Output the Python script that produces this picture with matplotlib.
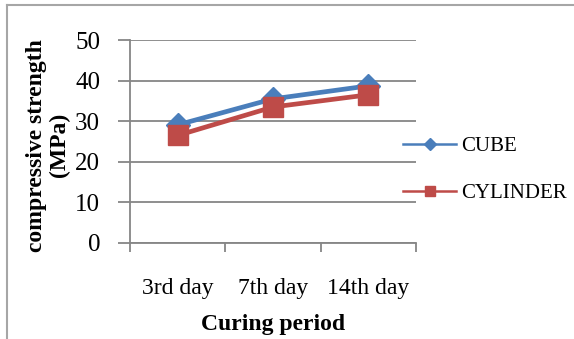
import matplotlib.pyplot as plt
from matplotlib.lines import Line2D

# compressive strength (MPa) at each curing age
periodos = ['3rd day', '7th day', '14th day']
cube = [29.1, 35.5, 38.7]
cylinder = [26.5, 33.5, 36.5]

azul = '#4A7EBB'
rojo = '#BE4B48'
gris = '#868686'

plt.rcParams['font.family'] = ['Liberation Serif', 'DejaVu Serif']

fig = plt.figure(figsize=(5.74, 3.39), dpi=100)
ax = fig.add_axes([0.2265, 0.2832, 0.4982, 0.5988])

x = range(len(periodos))
ax.plot(x, cube, '-D', color=azul, lw=3.4, markersize=12, zorder=3)
ax.plot(x, cylinder, '-s', color=rojo, lw=3.4, markersize=14, zorder=4)

ax.set_ylim(0, 50)
ax.set_yticks(range(0, 51, 10))
ax.set_xlim(-0.5, len(periodos) - 0.5)
ax.set_xticks([i - 0.5 for i in range(len(periodos) + 1)])
ax.set_xticklabels([])
ax.set_xticks(list(x), minor=True)
ax.set_xticklabels(periodos, minor=True, fontsize=17)
ax.tick_params(axis='x', which='minor', length=0, pad=25)
ax.tick_params(axis='x', which='major', length=6.5, width=1.3, color=gris)
ax.tick_params(axis='y', length=8.5, width=1.3, color=gris, labelsize=18, pad=13)

ax.grid(True, axis='y', color=gris, lw=1.3)
ax.set_axisbelow(True)
for lado in ['top', 'right']:
    ax.spines[lado].set_visible(False)
for lado in ['left', 'bottom']:
    ax.spines[lado].set_color(gris)
    ax.spines[lado].set_linewidth(1.3)

ax.set_xlabel('Curing period', fontsize=17, fontweight='bold', labelpad=11)
fig.text(0.084, 0.572, 'compressive strength\n(MPa)', rotation=90, fontsize=17,
         fontweight='bold', ha='center', va='center', linespacing=1.15)

handles = [Line2D([], [], color=azul, lw=1.8, marker='D', markersize=6.5),
           Line2D([], [], color=rojo, lw=1.8, marker='s', markersize=7.5)]
fig.legend(handles, ['CUBE', 'CYLINDER'], loc='center left',
           bbox_to_anchor=(403 / 574, 0.4986), frameon=False, fontsize=15,
           borderpad=0, borderaxespad=0,
           handlelength=2.55, handletextpad=0.25, labelspacing=1.3)

# chart border
fig.add_artist(Line2D([7 / 574, 7 / 574], [0, 1 - 5 / 339], color='#A6A6A6', lw=1.5))
fig.add_artist(Line2D([7 / 574, 1], [1 - 5 / 339, 1 - 5 / 339], color='#A6A6A6', lw=1.5))

fig.savefig('out.png', dpi=100)
